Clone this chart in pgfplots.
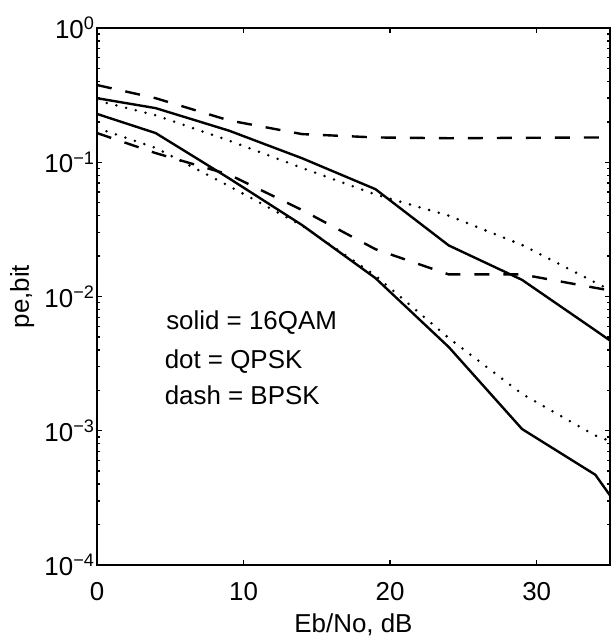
\documentclass[border=0pt]{standalone}
\usepackage{fontspec}
\setmainfont{Liberation Sans}
\usepackage{pgfplots}
\pgfplotsset{compat=1.18}

\begin{document}
\fontsize{13}{15}\selectfont
\begin{tikzpicture}
\begin{axis}[
  at={(0,0)}, anchor=south west,
  scale only axis, width=256.5bp, height=268.5bp,
  xmin=0, xmax=35, ymin=1e-4, ymax=1,
  ymode=log,
  xtick={0,10,20,30},
  ytick={1e-4,1e-3,1e-2,1e-1,1},
  yticklabels={10\textsuperscript{−4},10\textsuperscript{−3},10\textsuperscript{−2},10\textsuperscript{−1},10\textsuperscript{0}},
  /pgf/number format/assume math mode=true,
  tick align=inside, tick pos=both,
  major tick length=2.5bp, minor tick length=1.5bp,
  every tick/.style={black, line width=0.7bp},
  axis line style={line width=1.2bp},
  xticklabel style={yshift=-4bp},
  yticklabel style={xshift=3.5bp},
  xlabel={Eb/No, dB}, ylabel={pe,bit},
  xlabel style={at={(axis description cs:0.5,-0.125)}, anchor=base},
  ylabel style={at={(axis description cs:-0.146,0.5)}, anchor=center},
]
% 16QAM (solid)
\addplot[black, line width=1.2bp] coordinates {
  (0,0.30)(4,0.253)(9,0.172)(14,0.107)(19,0.063)(24,0.024)(29,0.0133)(34,0.0056)(35,0.0047)
};
\addplot[black, line width=1.2bp] coordinates {
  (0,0.229)(4,0.165)(9,0.076)(14,0.034)(19,0.0137)(24,0.0042)(29,0.00103)(34,0.00047)(35,0.00033)
};
% QPSK (dot)
\addplot[black, line width=1.4bp, line cap=round, dash pattern=on 0bp off 5bp] coordinates {
  (0,0.288)(4,0.224)(9,0.145)(14,0.0906)(19,0.0575)(24,0.040)(29,0.0242)(34,0.0127)(35,0.0112)
};
\addplot[black, line width=1.4bp, line cap=round, dash pattern=on 0bp off 5bp] coordinates {
  (0,0.18)(4,0.128)(9,0.0665)(14,0.0337)(19,0.0143)(24,0.0049)(29,0.00188)(34,0.00092)(35,0.00084)
};
% BPSK (dash)
\addplot[black, line width=1.2bp, dash pattern=on 7.5bp off 7bp] coordinates {
  (0,0.376)(4,0.30)(9,0.205)(14,0.162)(19,0.153)(24,0.151)(29,0.152)(34,0.153)(35,0.153)
};
\addplot[black, line width=1.2bp, dash pattern=on 7.5bp off 7bp] coordinates {
  (0,0.165)(4,0.117)(9,0.081)(14,0.044)(19,0.0225)(24,0.0146)(29,0.0146)(34,0.0116)(35,0.0111)
};
\node[anchor=base west, inner sep=0pt] at (axis cs:4.7,0.00563) {solid = 16QAM};
\node[anchor=base west, inner sep=0pt] at (axis cs:4.6,0.00293) {dot = QPSK};
\node[anchor=base west, inner sep=0pt] at (axis cs:4.6,0.00156) {dash = BPSK};
\end{axis}
\pgfresetboundingbox
\useasboundingbox (-48.5bp,-35.5bp) rectangle (258bp,282.5bp);
\end{tikzpicture}
\end{document}
